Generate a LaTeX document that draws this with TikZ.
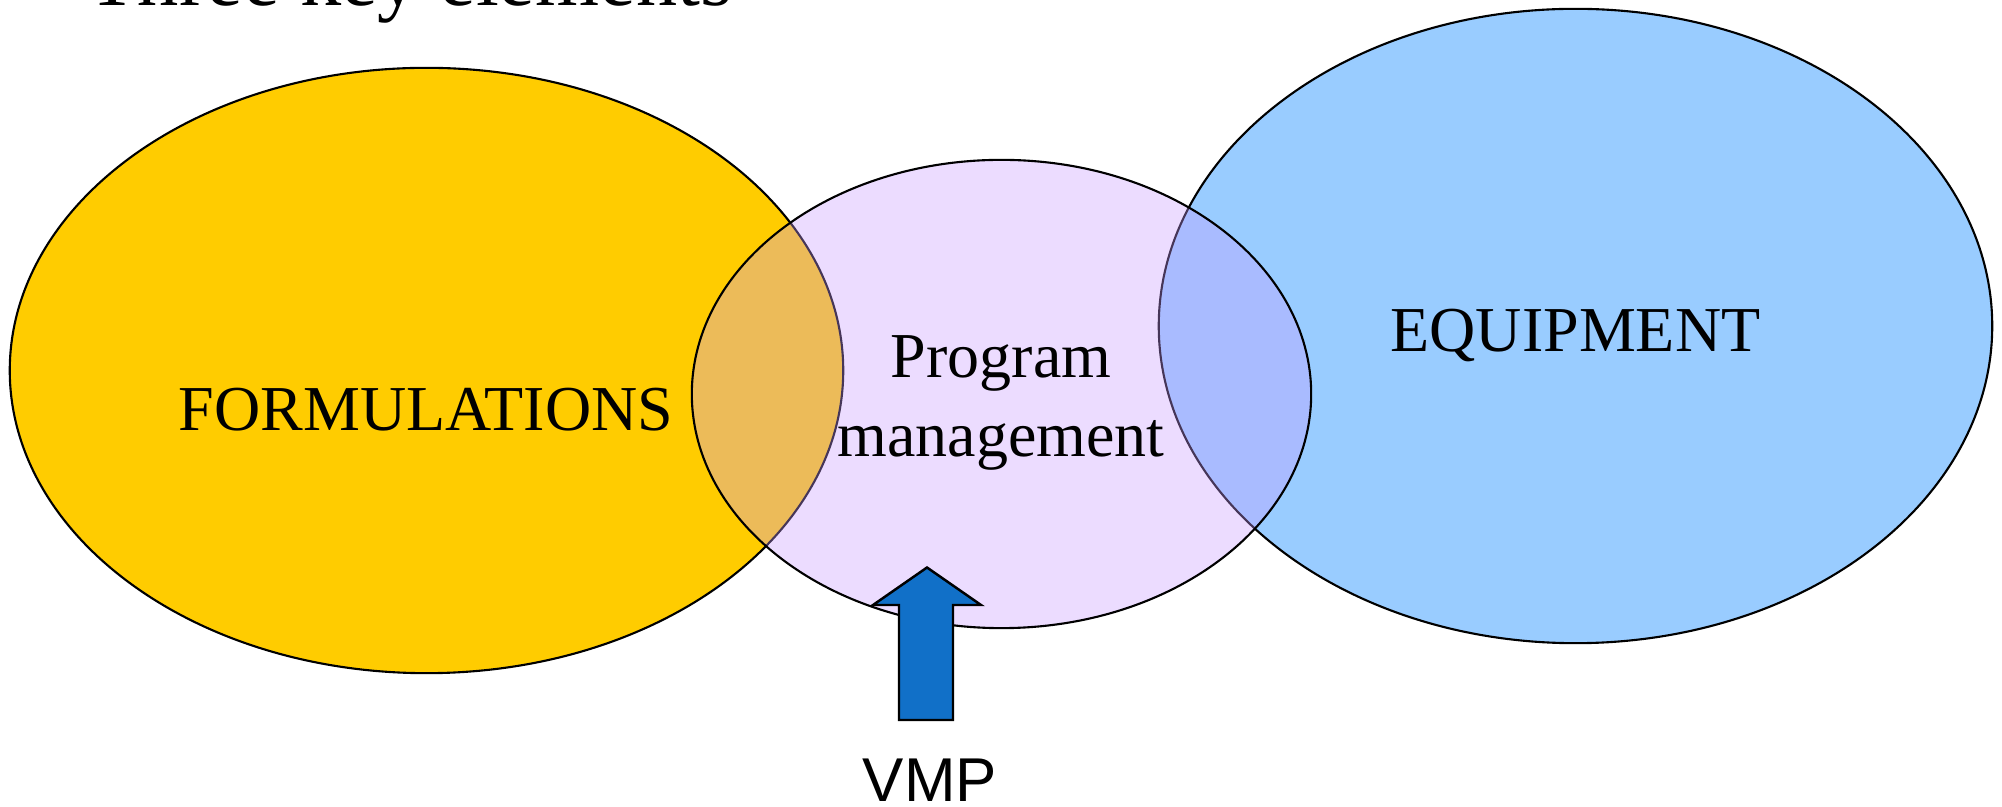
\documentclass[tikz,border=0pt]{standalone}
\usepackage{fontspec}
\setmainfont{Liberation Serif}
\newfontfamily\labelsans{Liberation Sans}
\usepackage{tikz}
\usetikzlibrary{shapes.geometric, positioning}

\definecolor{formyellow}{HTML}{FFCC00}
\definecolor{equipblue}{HTML}{99CCFF}
\definecolor{progviolet}{RGB}{201,156,255}
\definecolor{arrowblue}{HTML}{1170C8}

\begin{document}
\begin{tikzpicture}[
    x=0.01cm, y=-0.01cm,
    blob/.style={ellipse, draw=black, line width=0.6pt, inner sep=0pt},
    keytext/.style={font=\fontsize{18.2pt}{22.5pt}\selectfont, align=center, inner sep=0pt},
]
\useasboundingbox (0,0) rectangle (2002,807);

% title, only its lower edge is inside the page
\node[anchor=base west, inner sep=0pt, font=\fontsize{23.4pt}{28pt}\selectfont] (title) at (87,6) {Three key elements};

% the three elements
\node[blob, fill=formyellow, minimum width=8.33cm, minimum height=6.05cm] (form) at (426.5,370.5) {};
\node[blob, fill=equipblue, minimum width=8.33cm, minimum height=6.34cm] (equip) at (1575.5,326) {};
\node[blob, fill=progviolet, fill opacity=0.35, minimum width=6.19cm, minimum height=4.68cm] (prog) at (1001.5,394) {};

\node[keytext, anchor=base] (formtext) at (426,431) {FORMULATIONS};
\node[keytext, anchor=base] (equiptext) at (1575.5,352) {EQUIPMENT};
\node[keytext, anchor=base] (progtext) at (1001,378) {Program};
\node[keytext, anchor=base] (mgmttext) at (1001,457) {management};

% VMP block arrow
\draw[fill=arrowblue, line width=0.7pt, line join=miter]
    (899,720) -- (899,605) -- (873,605) -- (927,567.5) -- (981,605)
    -- (953,605) -- (953,720) -- cycle;
\node[anchor=base, inner sep=0pt, font=\labelsans\fontsize{17.6pt}{21pt}\selectfont] (vmp) at (930,802) {VMP};
\end{tikzpicture}
\end{document}
